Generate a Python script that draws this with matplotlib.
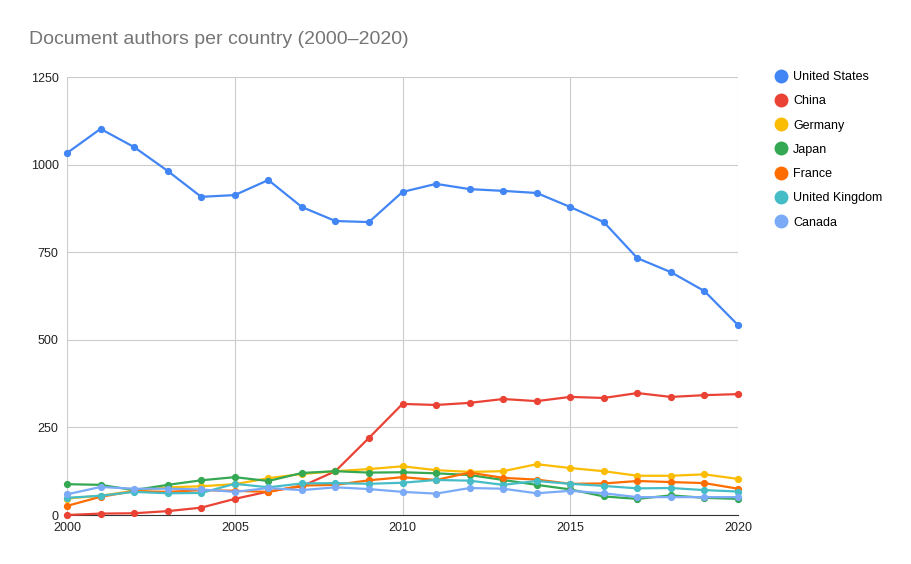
import matplotlib.pyplot as plt
from matplotlib.lines import Line2D

plt.rcParams['font.family'] = ['Liberation Sans', 'DejaVu Sans']

years = list(range(2000, 2021))

united_states = [1033, 1102, 1050, 982, 908, 913, 956, 879, 839, 836, 922,
                 945, 930, 925, 919, 879, 836, 733, 693, 639, 542]
china = [0, 4, 5, 11, 21, 46, 67, 82, 125, 220, 317,
         314, 320, 331, 325, 337, 334, 348, 337, 342, 345]
germany = [47, 55, 69, 79, 82, 88, 105, 117, 125, 131, 139,
           128, 123, 125, 145, 134, 125, 112, 112, 116, 103]
japan = [88, 86, 71, 86, 99, 108, 97, 120, 125, 121, 122,
         119, 114, 100, 86, 73, 53, 46, 56, 49, 46]
france = [26, 52, 68, 66, 71, 69, 66, 84, 86, 99, 108,
          100, 121, 106, 101, 89, 90, 97, 94, 91, 75]
united_kingdom = [49, 55, 66, 62, 63, 89, 79, 90, 91, 89, 92,
                  100, 98, 86, 97, 89, 83, 76, 77, 71, 67]
canada = [59, 80, 75, 75, 73, 66, 77, 71, 79, 74, 66,
          61, 77, 75, 62, 69, 62, 51, 51, 51, 51]

series = [
    ("United States", united_states, "#4285F4"),
    ("China", china, "#EA4335"),
    ("Germany", germany, "#FBBC04"),
    ("Japan", japan, "#34A853"),
    ("France", france, "#FF6D01"),
    ("United Kingdom", united_kingdom, "#46BDC6"),
    ("Canada", canada, "#7BAAF7"),
]

fig = plt.figure(figsize=(9.11, 5.64), dpi=100)
ax = fig.add_axes([67 / 911, 1 - 515 / 564, (738 - 67) / 911, (515 - 77) / 564])

handles = []
for name, vals, color in series:
    ax.plot(years, vals, color=color, lw=1.6, marker="o", markersize=4.2,
            solid_joinstyle="round", clip_on=False, zorder=3)
    handles.append(Line2D([], [], ls="none", marker="o", markersize=9,
                          color=color, label=name))

ax.set_xlim(2000, 2020)
ax.set_ylim(0, 1250)
ax.set_xticks([2000, 2005, 2010, 2015, 2020])
ax.set_yticks([0, 250, 500, 750, 1000, 1250])
ax.grid(True, color="#cccccc", lw=0.8)
ax.set_axisbelow(True)
for side in ["top", "right", "left"]:
    ax.spines[side].set_visible(False)
ax.spines["bottom"].set_color("#333333")
ax.tick_params(length=0, labelsize=9, colors="#222222", pad=6)
ax.tick_params(axis="x", pad=5)

fig.text(29 / 911, 1 - 40 / 564, "Document authors per country (2000\u20132020)",
         fontsize=14, color="#757575", va="center", ha="left")

fig.legend(handles=handles, loc="upper left", bbox_to_anchor=(768 / 911, 1 - 66 / 564),
           frameon=False, fontsize=9, labelspacing=0.98, handletextpad=0.4,
           handlelength=1.2, borderaxespad=0)

fig.savefig("out.png", dpi=100)
